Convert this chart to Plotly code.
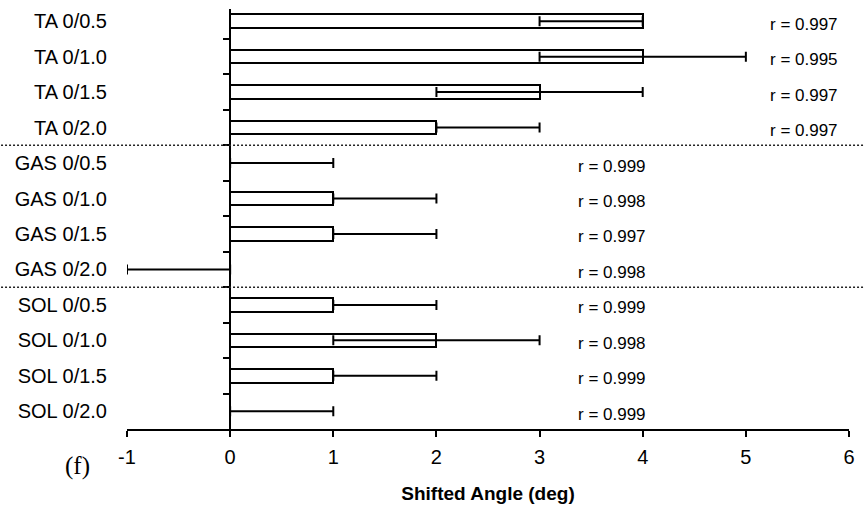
import plotly.graph_objects as go

# ---------------- data ----------------
categories = ["TA 0/0.5", "TA 0/1.0", "TA 0/1.5", "TA 0/2.0",
              "GAS 0/0.5", "GAS 0/1.0", "GAS 0/1.5", "GAS 0/2.0",
              "SOL 0/0.5", "SOL 0/1.0", "SOL 0/1.5", "SOL 0/2.0"]
groups = ["TA", "TA", "TA", "TA", "GAS", "GAS", "GAS", "GAS", "SOL", "SOL", "SOL", "SOL"]
shift_values = [4, 4, 3, 2, 0, 1, 1, 0, 1, 2, 1, 0]
err_plus = [0, 1, 1, 1, 1, 1, 1, 0, 1, 1, 1, 1]
err_minus = [1, 1, 1, 0, 0, 0, 0, 1, 0, 1, 0, 0]
r_labels = ["r = 0.997", "r = 0.995", "r = 0.997", "r = 0.997",
            "r = 0.999", "r = 0.998", "r = 0.997", "r = 0.998",
            "r = 0.999", "r = 0.998", "r = 0.999", "r = 0.999"]
x_ticks = [-1, 0, 1, 2, 3, 4, 5, 6]
x_tick_text = ["-1", "0", "1", "2", "3", "4", "5", "6"]
x_title = "Shifted Angle (deg)"
panel_label = "(f)"

# ---------------- style ----------------
FONT = "Liberation Sans, Arial, sans-serif"
r_label_x = {"TA": 5.21, "GAS": 3.35, "SOL": 3.35}

fig = go.Figure()
fig.add_trace(go.Bar(
    x=shift_values, y=categories, orientation="h",
    width=0.38,
    marker=dict(color="white", line=dict(color="black", width=2)),
    error_x=dict(type="data", symmetric=False, array=err_plus, arrayminus=err_minus,
                 color="black", thickness=2, width=5),
    showlegend=False, hoverinfo="skip",
))
# invisible trace to carry the zero-position y axis
fig.add_trace(go.Scatter(
    x=shift_values, y=categories, yaxis="y2", mode="markers",
    marker=dict(opacity=0), showlegend=False, hoverinfo="skip",
))

# group separators (dotted) at boundaries between groups
for i in range(1, len(groups)):
    if groups[i] != groups[i - 1]:
        fig.add_shape(type="line", xref="paper", yref="y",
                      x0=-0.18, x1=1.02, y0=i - 0.5, y1=i - 0.5,
                      line=dict(color="#222222", width=1.5, dash="2px,2px"))

for cat, grp, lab in zip(categories, groups, r_labels):
    fig.add_annotation(x=r_label_x[grp], y=cat, text=lab, showarrow=False,
                       xanchor="left", yanchor="middle", yshift=-3,
                       font=dict(family=FONT, size=17, color="black"))

fig.add_annotation(x=-0.068, y=-0.088, xref="paper", yref="paper", text=panel_label,
                   showarrow=False, xanchor="center", yanchor="middle",
                   font=dict(family="Liberation Serif, Times New Roman, serif", size=25, color="black"))

cat_range = [len(categories) - 0.5, -0.344]
fig.update_layout(
    width=864, height=514,
    margin=dict(l=127, r=13, t=9, b=85),
    paper_bgcolor="white", plot_bgcolor="white",
    font=dict(family=FONT, color="black"),
    bargap=0,
    xaxis=dict(range=[-1, 6], tickvals=x_ticks, ticktext=x_tick_text,
               ticks="outside", ticklen=6, tickwidth=2,
               tickcolor="black", showline=True, linecolor="black", linewidth=2,
               showgrid=False, zeroline=False, ticklabelstandoff=3,
               tickfont=dict(family=FONT, size=20, color="black"),
               title=dict(text="<b>" + x_title + "</b>", standoff=20,
                          font=dict(family=FONT, size=19, color="black"))),
    yaxis=dict(type="category", categoryorder="array", categoryarray=categories,
               range=cat_range, showline=False, showgrid=False, zeroline=False,
               ticks="", ticklabelstandoff=19,
               tickfont=dict(family=FONT, size=20, color="black")),
    yaxis2=dict(type="category", categoryorder="array", categoryarray=categories,
                range=cat_range, overlaying="y", anchor="free", position=1 / 7,
                side="left", showline=True, linecolor="black", linewidth=2,
                showgrid=False, zeroline=False, showticklabels=False,
                ticks="outside", tickson="boundaries", ticklen=6, tickwidth=2,
                tickcolor="black"),
)

fig.write_html("out.html")
